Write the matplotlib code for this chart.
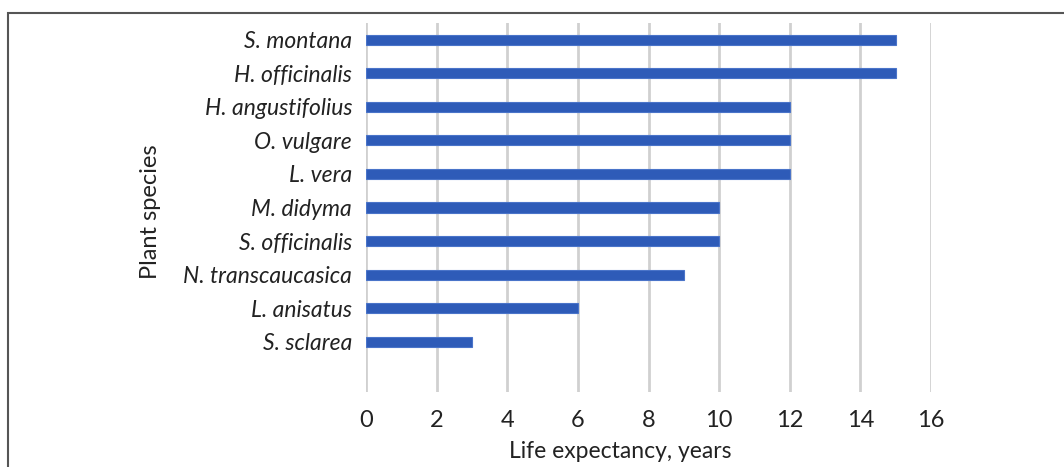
import matplotlib.pyplot as plt
from matplotlib.patches import Rectangle

species = [
    "S. montana",
    "H. officinalis",
    "H. angustifolius",
    "O. vulgare",
    "L. vera",
    "M. didyma",
    "S. officinalis",
    "N. transcaucasica",
    "L. anisatus",
    "S. sclarea",
]
years = [15, 15, 12, 12, 12, 10, 10, 9, 6, 3]
xticks = [0, 2, 4, 6, 8, 10, 12, 14, 16]

plt.rcParams["font.family"] = ["Lato", "DejaVu Sans"]

fig = plt.figure(figsize=(10.64, 4.67), dpi=100)
ax = fig.add_axes([366 / 1064, 1 - 392 / 467, 565 / 1064, 369 / 467])

pos = list(range(len(species)))
ax.barh(pos, years, height=0.3, color="#2E5BB8", edgecolor="#4A74C9", linewidth=0.8, zorder=3)

ax.set_ylim(10.5, -0.5)
ax.set_xlim(0, 16)
ax.set_xticks(xticks)
ax.set_xticklabels([str(t) for t in xticks], fontsize=17, color="#222222")
ax.set_yticks(pos)
ax.set_yticklabels(species, fontsize=16.5, style="italic", color="#222222")
ax.tick_params(axis="both", length=0)
ax.tick_params(axis="y", pad=10)
ax.tick_params(axis="x", pad=13)

ax.grid(axis="x", color="#D0D0D0", linewidth=2, zorder=0)
for s in ax.spines.values():
    s.set_visible(False)

ax.set_xlabel("Life expectancy, years", fontsize=16.5, color="#222222")
ax.xaxis.set_label_coords((620 - 366) / 565, -(441 - 392) / 369)
ax.set_ylabel("Plant species", fontsize=17, color="#222222")
ax.yaxis.set_label_coords((161 - 366) / 565, (392 - 212) / 369)

fig.patches.append(Rectangle((8 / 1064, -0.1), 1.2, 1.1 - 12.5 / 467,
                             transform=fig.transFigure, fill=False,
                             edgecolor="#555555", linewidth=1.5))

fig.savefig("out.png", dpi=100)
